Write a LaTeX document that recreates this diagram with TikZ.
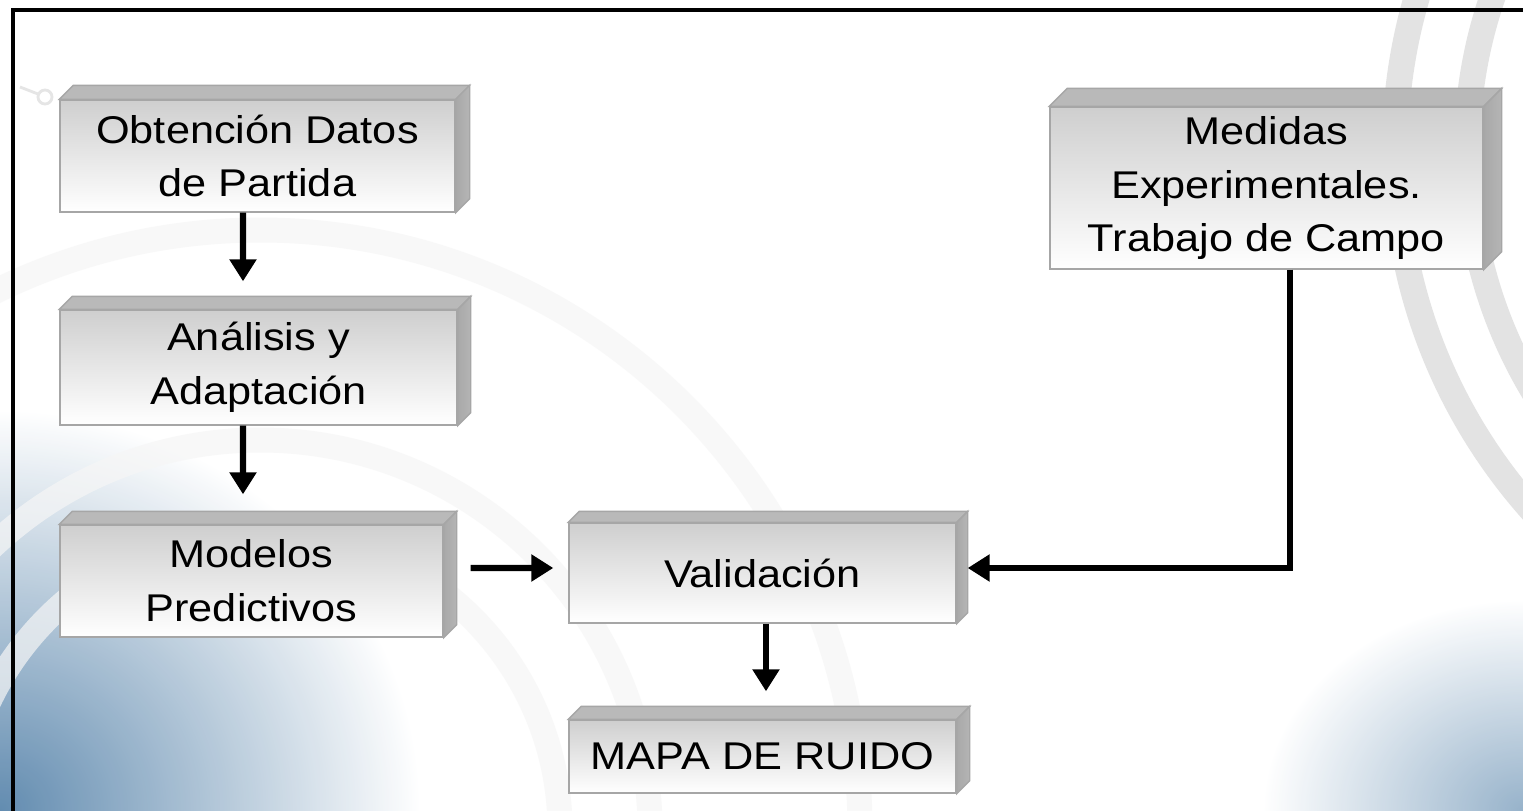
\documentclass[tikz,border=0pt]{standalone}
\usepackage{fontspec}
\setmainfont{Liberation Sans}[FakeStretch=1.12]
\usetikzlibrary{arrows.meta,calc}
\definecolor{azulfondo}{RGB}{82,128,168}
\tikzset{post/.style={-{Triangle[width=2.6mm,length=2.2mm]}, line width=1.8pt},
         caja/.style={draw=gray!70, thin, top color=gray!38, bottom color=white, align=center,
                      inner sep=0pt, font=\fontsize{11}{15.3}\selectfont},
         tapa/.style={fill=gray!55, draw=gray!70, thin},
         lado/.style={left color=gray!68, right color=gray!58, draw=gray!70, thin},
         arco/.style={gray!7, line width=2.5mm, opacity=0.7},
         arcod/.style={gray!22, line width=2.6mm}
}

\begin{document}
\begin{tikzpicture}
      \useasboundingbox (0,0) rectangle (15.23,8.10);
      % fondo
      \begin{scope}
        \clip (0,0) rectangle (15.23,8.10);
        \fill[white] (0,0) rectangle (15.23,8.10);
        \shade[inner color=azulfondo, outer color=white, opacity=0.9] (0,0) ellipse (4.2 and 4.0);
        \shade[inner color=azulfondo!75, outer color=white, opacity=0.8] (15.23,0) ellipse (2.6 and 2.1);
        \foreach \r in {3.0,3.9,6.0}
          \draw[arco] (2.6,-0.2) circle (\r);
        \draw[arcod] (19.37,6.60) circle (5.42);
        \draw[arcod] (19.37,6.60) circle (4.70);
        \draw[gray!20, thick] (0.2,7.23) -- (0.38,7.16);
        \draw[gray!20, thick] (0.45,7.13) circle (0.07);
        \draw[line width=1.2pt] (0.13,-0.5) -- (0.13,8.00) -- (15.8,8.00);
      \end{scope}
      % cajas
      \node[caja, minimum width=3.95cm, minimum height=1.12cm] (obt) at (2.575,6.54) {Obtención Datos\\de Partida};
      \node[caja, minimum width=3.97cm, minimum height=1.15cm] (ana) at (2.585,4.425) {Análisis y\\Adaptación};
      \node[caja, minimum width=3.83cm, minimum height=1.12cm] (mod) at (2.515,2.29) {Modelos\\Predictivos};
      \node[caja, minimum width=3.87cm, minimum height=1.00cm] (val) at (7.625,2.37) {Validación};
      \node[caja, minimum width=3.87cm, minimum height=0.73cm] (mapa) at (7.625,0.535) {MAPA DE RUIDO};
      \node[caja, minimum width=4.33cm, minimum height=1.62cm] (med) at (12.665,6.22) {Medidas\\Experimentales.\\Trabajo de Campo};
      \foreach \n/\d in {obt/0.14, ana/0.13, mod/0.13, val/0.11, mapa/0.13, med/0.18}{
        \path[tapa] (\n.north west) -- ++(\d,\d) -- ($(\n.north east)+(\d,\d)$) -- (\n.north east) -- cycle;
        \path[lado] (\n.north east) -- ++(\d,\d) -- ($(\n.south east)+(\d,\d)$) -- (\n.south east) -- cycle;
      }
      % flechas
      \draw[post] ([xshift=-1.45mm]obt.south) -- ([xshift=-1.55mm,yshift=2.8mm]ana.north);
      \draw[post] ([xshift=-1.55mm]ana.south) -- ([xshift=-0.85mm,yshift=3mm]mod.north);
      \draw[post] ($(mod.east |- val.west)+(0.27,0.05)$) -- ([shift={(-1.5mm,0.5mm)}]val.west);
      \draw[post] ([xshift=0.35mm]val.south) -- ([xshift=0.35mm,yshift=2.8mm]mapa.north);
      \draw[post] ([xshift=2.35mm]med.south) |- ([shift={(1.1mm,0.5mm)}]val.east);
\end{tikzpicture}
\end{document}
